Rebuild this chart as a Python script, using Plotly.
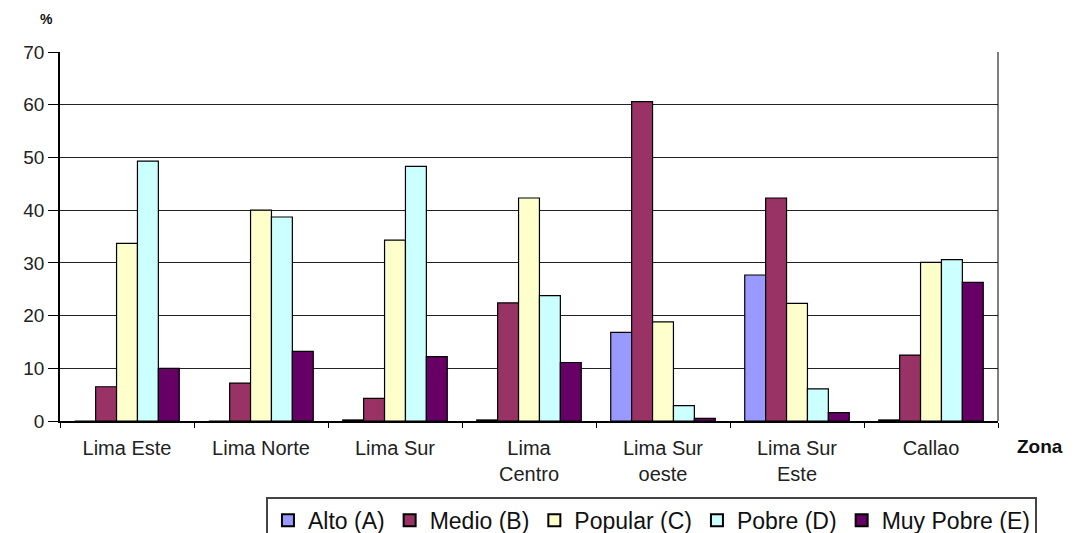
import plotly.graph_objects as go

zonas = ["Lima Este", "Lima Norte", "Lima Sur", "Lima<br>Centro", "Lima Sur<br>oeste", "Lima Sur<br>Este", "Callao"]
alto = [0, 0, 0.2, 0.2, 16.8, 27.7, 0.2]
medio = [6.5, 7.2, 4.3, 22.4, 60.6, 42.3, 12.5]
popular = [33.7, 40.0, 34.3, 42.3, 18.8, 22.3, 30.1]
pobre = [49.3, 38.7, 48.3, 23.8, 2.9, 6.1, 30.6]
muy_pobre = [10.0, 13.2, 12.2, 11.1, 0.5, 1.6, 26.3]

series = [
    ("Alto (A)", alto, "#9999FF"),
    ("Medio (B)", medio, "#993366"),
    ("Popular (C)", popular, "#FFFFCC"),
    ("Pobre (D)", pobre, "#CCFFFF"),
    ("Muy Pobre (E)", muy_pobre, "#660066"),
]

FONT = "Arial, Liberation Sans, sans-serif"

fig = go.Figure()
for name, vals, col in series:
    fig.add_trace(go.Bar(
        x=zonas, y=vals, name=name,
        marker=dict(color=col, line=dict(color="#000000", width=1.2)),
    ))

fig.update_layout(
    width=1075, height=533,
    margin=dict(l=60, r=77, t=52, b=112, autoexpand=False),
    paper_bgcolor="white", plot_bgcolor="white",
    barmode="group", bargap=0.22, bargroupgap=0,
    font=dict(family=FONT, color="#222222", size=16),
    showlegend=True,
    legend=dict(
        orientation="h", xref="container", yref="container",
        x=0.606, xanchor="center", y=0.068, yanchor="top",
        font=dict(size=23, color="#111111", family=FONT),
        bordercolor="#444444", borderwidth=2, bgcolor="white",
        itemsizing="constant", tracegroupgap=0,
    ),
    xaxis=dict(
        showline=True, linecolor="#000000", linewidth=1.5,
        ticks="outside", tickson="boundaries", ticklen=5, tickcolor="#000000",
        tickfont=dict(size=20, color="#222222"),
        ticklabelstandoff=8,
        mirror=False, automargin=False,
    ),
    yaxis=dict(
        range=[0, 70], dtick=10,
        showline=True, linecolor="#000000", linewidth=1.5,
        ticks="outside", ticklen=10, tickcolor="#000000",
        showgrid=True, gridcolor="#222222", gridwidth=1.3,
        tickfont=dict(size=19, color="#222222"),
        zeroline=False, automargin=False,
    ),
    shapes=[dict(type="line", xref="paper", yref="paper", x0=1, x1=1, y0=0, y1=1,
                 line=dict(color="#000000", width=1))],
    annotations=[
        dict(text="<b>%</b>", xref="paper", yref="paper", x=-0.014, y=1.09,
             xanchor="center", yanchor="middle", showarrow=False,
             font=dict(size=14, color="#111111")),
        dict(text="<b>Zona</b>", xref="paper", yref="paper", x=1.045, y=-0.07,
             xanchor="center", yanchor="middle", showarrow=False,
             font=dict(size=19, color="#111111")),
    ],
)

fig.write_html("out.html")
